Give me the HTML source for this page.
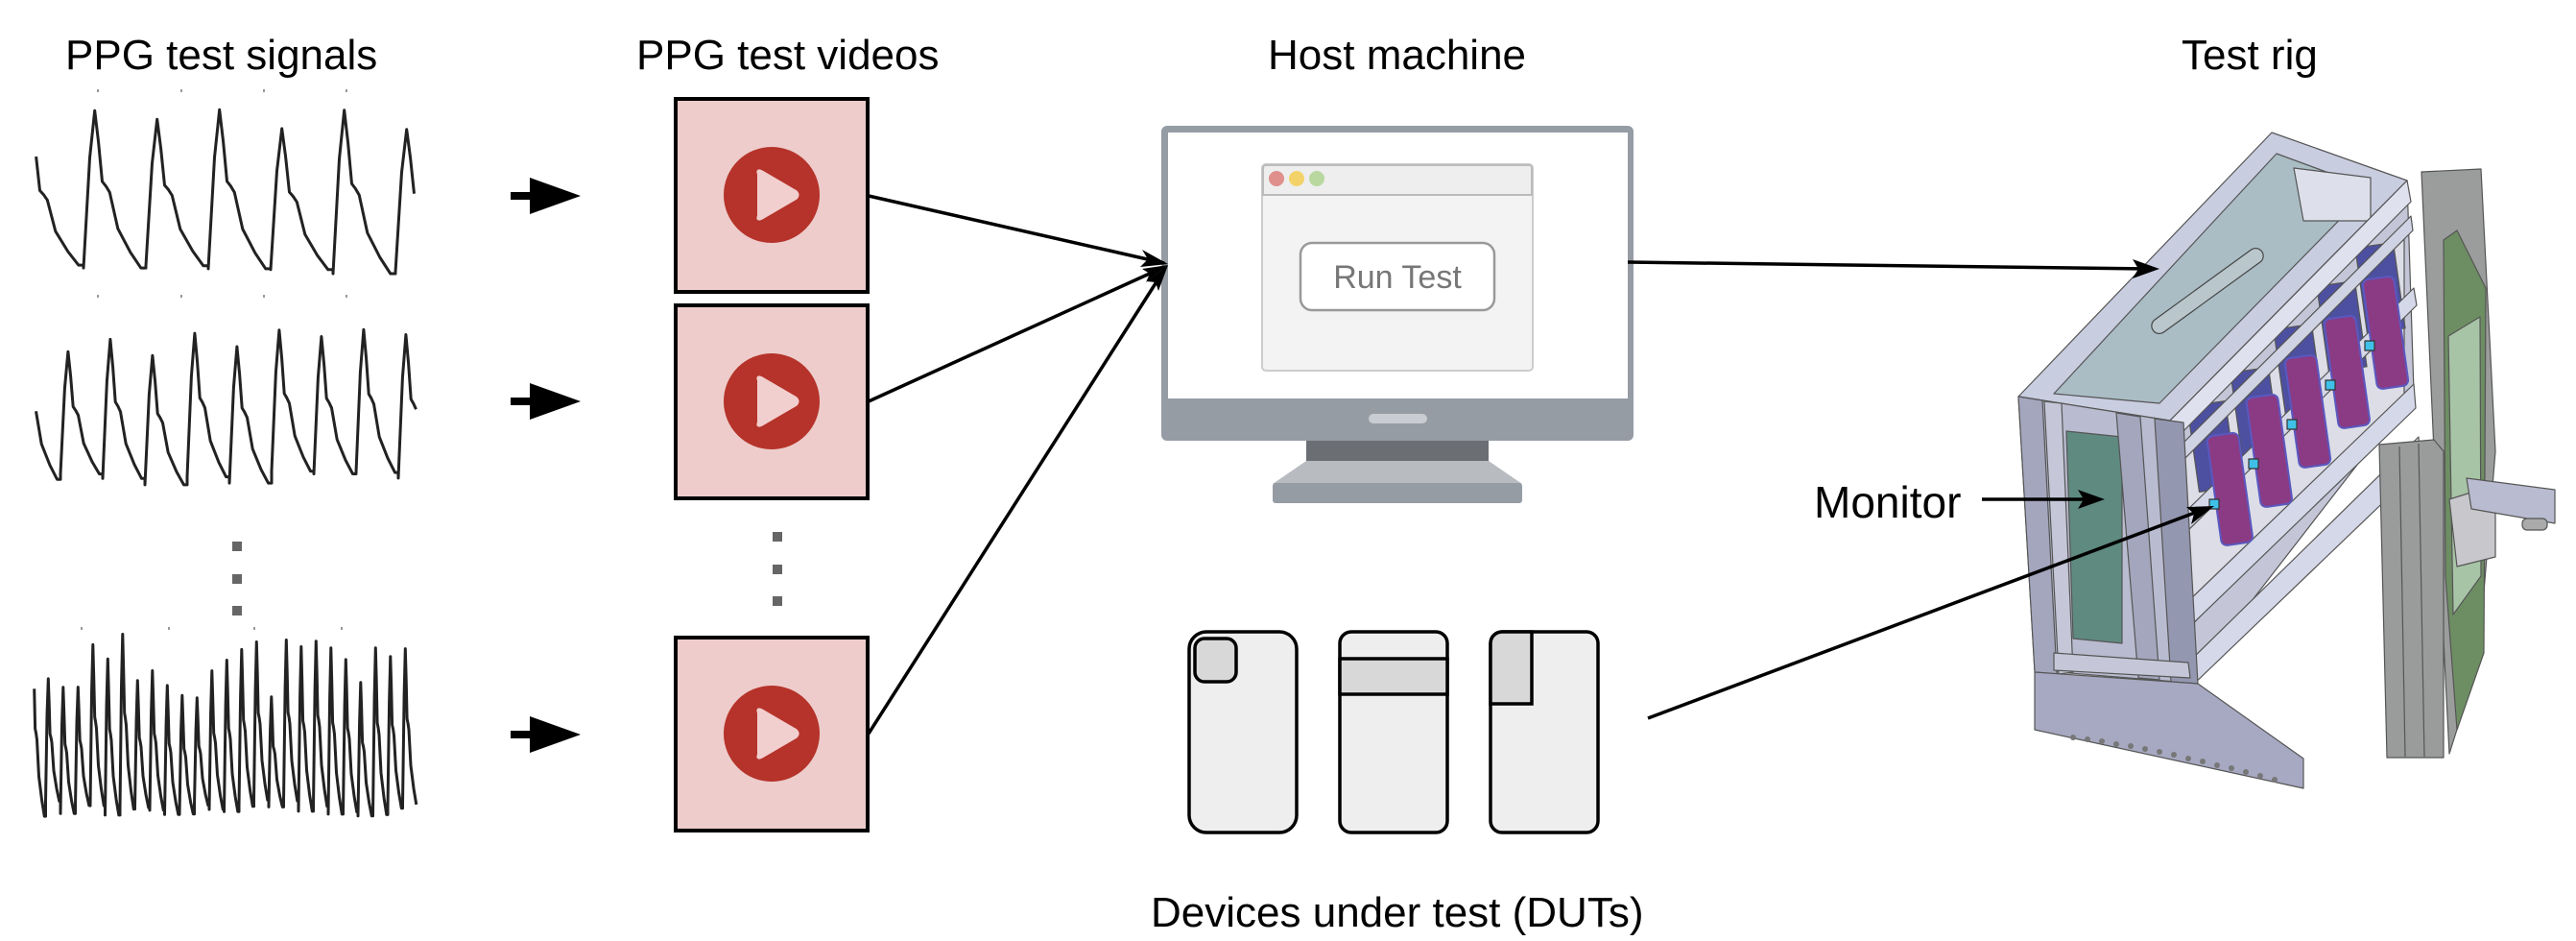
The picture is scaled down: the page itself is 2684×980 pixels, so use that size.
<!DOCTYPE html>
<html><head><meta charset="utf-8"><style>
html,body{margin:0;padding:0;background:#fff;}
body{width:2684px;height:980px;position:relative;overflow:hidden;font-family:"Liberation Sans",Arial,sans-serif;}
.t{position:absolute;font-size:44px;color:#000;white-space:nowrap;line-height:1;}
</style></head><body>
<div class="t" style="left:68px;top:36px;">PPG test signals</div>
<div class="t" style="left:663px;top:36px;">PPG test videos</div>
<div class="t" style="left:1321px;top:36px;">Host machine</div>
<div class="t" style="left:2273px;top:36px;">Test rig</div>
<div class="t" style="left:1890px;top:500px;font-size:46px;">Monitor</div>
<div class="t" style="left:1199px;top:929px;">Devices under test (DUTs)</div>

<svg id="s" width="2684" height="980" style="position:absolute;left:0;top:0;" xmlns="http://www.w3.org/2000/svg">
<g id="waves" fill="none" stroke="#222" stroke-width="3" stroke-linejoin="round"></g>
<g fill="#999"><rect x="101" y="93" width="2" height="3"/><rect x="188" y="93" width="2" height="3"/><rect x="274" y="93" width="2" height="3"/><rect x="360" y="93" width="2" height="3"/>
<rect x="101" y="307" width="2" height="3"/><rect x="188" y="307" width="2" height="3"/><rect x="274" y="307" width="2" height="3"/><rect x="360" y="307" width="2" height="3"/>
<rect x="84" y="653" width="2" height="3"/><rect x="175" y="653" width="2" height="3"/><rect x="264" y="653" width="2" height="3"/><rect x="355" y="653" width="2" height="3"/></g>
<g fill="#666"><rect x="242" y="564" width="10" height="10"/><rect x="242" y="598" width="10" height="10"/><rect x="242" y="631" width="10" height="10"/>
<rect x="805" y="554" width="10" height="10"/><rect x="805" y="588" width="10" height="10"/><rect x="805" y="621" width="10" height="10"/></g>
<g fill="#000">
<rect x="532" y="200" width="24" height="8"/><polygon points="552,185 605,204 552,223"/>
<rect x="532" y="414" width="24" height="8"/><polygon points="552,399 605,418 552,437"/>
<rect x="532" y="761" width="24" height="8"/><polygon points="552,746 605,765 552,784"/>
</g>
<g id="vids"></g>
<!-- monitor -->
<rect x="1210" y="131" width="492" height="328" rx="6" fill="#969ca4"/>
<rect x="1217" y="138" width="479" height="277" fill="#fff"/>
<rect x="1426" y="431" width="61" height="10" rx="5" fill="#c9ccd1"/>
<rect x="1361" y="459" width="190" height="21" fill="#6b6e73"/>
<polygon points="1361,480 1551,480 1586,504 1326,504" fill="#b8bbc0"/>
<rect x="1326" y="503" width="260" height="21" rx="3" fill="#969ca4"/>
<rect x="1315" y="171" width="282" height="215" rx="4" fill="#f3f3f3" stroke="#ccc" stroke-width="2"/>
<path d="M1316,203 V175 a3,3 0 0 1 3,-3 H1593 a3,3 0 0 1 3,3 V203 Z" fill="#eeeeee" stroke="#bbb" stroke-width="2"/>
<circle cx="1330" cy="186" r="8" fill="#df8f8c"/><circle cx="1351" cy="186" r="8" fill="#f4d26a"/><circle cx="1372" cy="186" r="8" fill="#b8d8a0"/>
<rect x="1355" y="253" width="202" height="70" rx="12" fill="#fff" stroke="#999" stroke-width="2.5"/>
<text x="1456" y="300" font-family="Liberation Sans, Arial, sans-serif" font-size="34" fill="#777" text-anchor="middle">Run Test</text>
<!-- phones -->
<g stroke="#000" stroke-width="3.5">
<rect x="1239" y="658" width="112" height="209" rx="18" fill="#eeeeee"/>
<rect x="1245" y="665" width="43" height="45" rx="10" fill="#d8d8d8"/>
<rect x="1396" y="658" width="112" height="209" rx="12" fill="#eeeeee"/>
<rect x="1396" y="686" width="112" height="37" fill="#d8d8d8"/>
<rect x="1553" y="658" width="112" height="209" rx="12" fill="#eeeeee"/>
<path d="M1553,733 V670 a12,12 0 0 1 12,-12 H1596 V733 Z" fill="#d8d8d8"/>
</g>
<!-- rig -->
<g stroke="#555" stroke-width="1.2" stroke-linejoin="round">
<polygon points="2523,179 2585,176 2600,470 2582,690 2552,785 2536,470" fill="#9b9d9c"/>
<polygon points="2546,250 2560,240 2590,300 2588,680 2560,760 2548,600" fill="#6d8e63"/>
<polygon points="2551,350 2584,330 2585,600 2556,640" fill="#a8c4a6"/>
<polygon points="2552,520 2600,505 2600,580 2560,590" fill="#c8c8cc"/>
<polygon points="2570,498 2662,510 2662,545 2575,530" fill="#b9bcd0"/>
<rect x="2628" y="540" width="26" height="12" rx="5" fill="#aaa"/>
<polygon points="2103,413 2367,138 2508,188 2261,438" fill="#c9cde0"/>
<polygon points="2140,410 2372,160 2470,196 2250,420" fill="#aabdc5"/>
<polygon points="2390,175 2470,185 2470,230 2400,230" fill="#dde0ea"/>
<rect x="2230" y="295" width="140" height="16" rx="8" transform="rotate(-36 2300 303)" fill="#b9c6cc" stroke="#444"/>
<polygon points="2261,438 2508,188 2515,408 2280,711" fill="#c4c6d8"/>
<polygon points="2268,470 2505,240 2505,420 2275,660" fill="#dcdde6"/>
<g fill="#4d50a0">
<rect x="2285" y="420" width="40" height="90" transform="rotate(-8 2305 465)"/>
<rect x="2330" y="385" width="40" height="90" transform="rotate(-8 2350 430)"/>
<rect x="2375" y="340" width="40" height="90" transform="rotate(-8 2395 385)"/>
<rect x="2420" y="295" width="40" height="90" transform="rotate(-8 2440 340)"/>
<rect x="2460" y="255" width="40" height="90" transform="rotate(-8 2480 300)"/>
</g>
<polygon points="2261,438 2508,188 2512,210 2264,460" fill="#dfe1ee"/>
<polygon points="2266,470 2512,225 2514,240 2268,486" fill="#d0d3e3"/>
<polygon points="2270,540 2515,300 2518,318 2272,560" fill="#d5d8e8"/>
<polygon points="2276,630 2515,400 2517,425 2278,656" fill="#d5d8e8"/>
<polygon points="2280,690 2520,455 2522,486 2282,716" fill="#d5d8e8"/>
<g fill="#8a3b84" stroke="#5a58c0" stroke-width="2">
<rect x="2307" y="452" width="33" height="115" rx="6" transform="rotate(-8 2323 510)"/>
<rect x="2348" y="412" width="33" height="115" rx="6" transform="rotate(-8 2364 470)"/>
<rect x="2388" y="371" width="33" height="115" rx="6" transform="rotate(-8 2404 428)"/>
<rect x="2429" y="330" width="33" height="115" rx="6" transform="rotate(-8 2445 388)"/>
<rect x="2469" y="289" width="33" height="115" rx="6" transform="rotate(-8 2485 346)"/>
</g>
<g fill="#3fc0e8" stroke="#333"><rect x="2302" y="520" width="10" height="10"/><rect x="2343" y="478" width="10" height="10"/><rect x="2383" y="437" width="10" height="10"/><rect x="2423" y="396" width="10" height="10"/><rect x="2464" y="355" width="10" height="10"/></g>
<polygon points="2103,413 2261,438 2280,711 2120,698" fill="#b9bcd0"/>
<polygon points="2153,449 2211,455 2211,670 2160,665" fill="#5f8a80"/>
<polygon points="2103,413 2128,417 2143,702 2120,700" fill="#a3a6bd"/>
<polygon points="2130,418 2148,420 2160,700 2145,702" fill="#c5c7d8"/>
<polygon points="2205,430 2230,434 2250,708 2228,706" fill="#a3a6bd"/>
<polygon points="2245,436 2275,440 2290,712 2262,710" fill="#9497b0"/>
<polygon points="2140,680 2280,690 2282,706 2140,698" fill="#c5c7d8"/>
<polygon points="2120,700 2290,712 2400,790 2400,821 2120,760" fill="#a7a9c2"/>
<polygon points="2479,463 2536,458 2546,470 2546,789 2487,789" fill="#9a9c9b"/>
<line x1="2500" y1="465" x2="2506" y2="788"/><line x1="2520" y1="462" x2="2526" y2="788"/>
</g>
<g fill="#777"><circle cx="2160" cy="768" r="3"/><circle cx="2175" cy="770" r="3"/><circle cx="2190" cy="772" r="3"/><circle cx="2205" cy="775" r="3"/><circle cx="2220" cy="777" r="3"/><circle cx="2235" cy="780" r="3"/><circle cx="2250" cy="783" r="3"/><circle cx="2265" cy="786" r="3"/><circle cx="2280" cy="790" r="3"/><circle cx="2295" cy="793" r="3"/><circle cx="2310" cy="797" r="3"/><circle cx="2325" cy="800" r="3"/><circle cx="2340" cy="804" r="3"/><circle cx="2355" cy="808" r="3"/><circle cx="2370" cy="812" r="3"/></g>
<!-- connectors on top -->
<g stroke="#000" stroke-width="3.5" fill="none">
<line x1="905" y1="204" x2="1213" y2="274"/>
<line x1="905" y1="418" x2="1213" y2="278"/>
<line x1="905" y1="764" x2="1213" y2="281"/>
<line x1="1696" y1="273" x2="2240" y2="280"/>
<line x1="1717" y1="748" x2="2300" y2="529"/>
<line x1="2065" y1="520" x2="2180" y2="520"/>
</g>
<g fill="#000">
<polygon points="1217,275 1190,260 1196,270 1188,278"/>
<polygon points="1217,276 1190,280 1198,285 1194,294"/>
<polygon points="1217,276 1195,293 1204,294 1207,303"/>
<polygon points="2250,280 2222,270 2228,280 2222,290"/>
<polygon points="2307,527 2278,528 2286,535 2283,546"/>
<polygon points="2193,520 2165,510 2171,520 2165,530"/>
</g>
</svg>
<script>
(function(){
var NS="http://www.w3.org/2000/svg";
var vids=document.getElementById('vids');
[103,318,664].forEach(function(y){
  var r=document.createElementNS(NS,'rect');
  r.setAttribute('x',704);r.setAttribute('y',y);r.setAttribute('width',200);r.setAttribute('height',201);
  r.setAttribute('fill','#edcccb');r.setAttribute('stroke','#000');r.setAttribute('stroke-width','4');vids.appendChild(r);
  var cy=y+100;
  var c=document.createElementNS(NS,'circle');c.setAttribute('cx',804);c.setAttribute('cy',cy);c.setAttribute('r',50);c.setAttribute('fill','#b5332a');vids.appendChild(c);
  var p=document.createElementNS(NS,'path');
  p.setAttribute('d','M791,'+(cy-22)+' Q789,'+(cy-26)+' 793,'+(cy-24)+' L829,'+(cy-3)+' Q832,'+cy+' 829,'+(cy+3)+' L793,'+(cy+24)+' Q789,'+(cy+26)+' 791,'+(cy+22)+' Z');
  p.setAttribute('fill','#f2cfcf');p.setAttribute('stroke','#f2cfcf');p.setAttribute('stroke-width','4');p.setAttribute('stroke-linejoin','round');vids.appendChild(p);
});
var tpl=[[0,1],[0.10,0.3],[0.18,0.0],[0.24,0.2],[0.30,0.45],[0.36,0.48],[0.42,0.52],[0.55,0.75],[0.75,0.9],[0.92,1.0],[1,1]];
function wave(x0,x1,y0,y1,period,phase,seed,var_){
  var pts=[],rs=seed;function rnd(){rs=(rs*9301+49297)%233280;return rs/233280;}
  var x=x0-phase;
  while(x<x1){
    var amp=(1-var_)+var_*rnd(), base=0.9+0.1*rnd();
    for(var i=0;i<tpl.length;i++){
      var px=x+tpl[i][0]*period, v=tpl[i][1];
      v=(1-amp)+amp*v; v=v*base;
      if(px>=x0&&px<=x1) pts.push(px.toFixed(1)+','+(y0+v*(y1-y0)).toFixed(1));
    }
    x+=period;
  }
  var pl=document.createElementNS(NS,'polyline');pl.setAttribute('points',pts.join(' '));
  document.getElementById('waves').appendChild(pl);
}
wave(35,434,113,290,65,13,3,0.2);
wave(35,434,330,507,44,16,7,0.25);
wave(35,434,657,852,15.5,3,11,0.4);
})();
</script>
</body></html>
